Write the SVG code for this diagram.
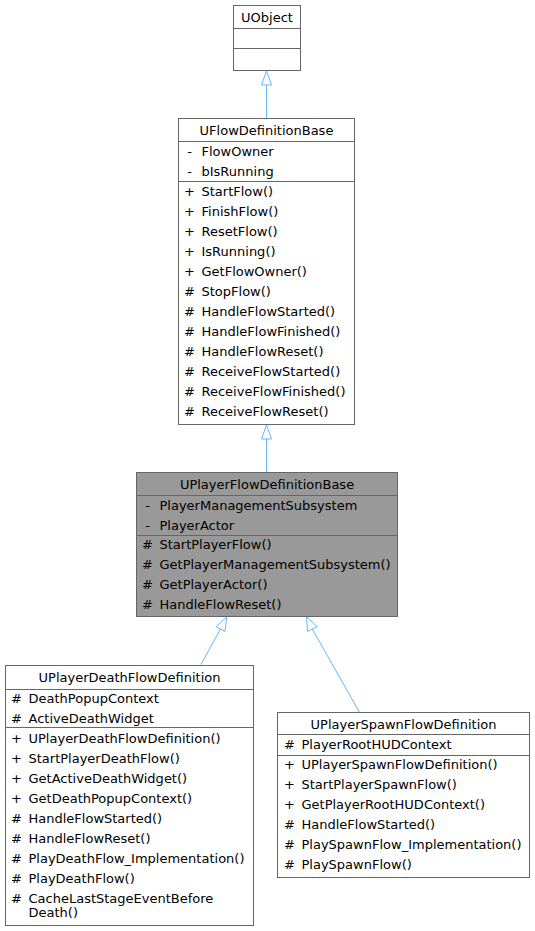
<svg xmlns="http://www.w3.org/2000/svg" width="535" height="931" viewBox="0 0 535 931">
<style>
text{font-family:"DejaVu Sans","Liberation Sans",sans-serif;font-size:13px;fill:#000}
.t{text-anchor:middle}
.v{text-anchor:middle}
.box{fill:#fff;stroke:#666;stroke-width:1}
.sel{fill:#999;stroke:#666;stroke-width:1}
.sep{stroke:#666;stroke-width:1}
.edge{fill:none;stroke:#63b8ff;stroke-width:1}
.head{fill:#fff;stroke:#63b8ff;stroke-width:1}
</style>
<rect width="535" height="931" fill="#fff"/>
<g id="connectors">
<path class="edge" d="M266.5,118 V84.5"/>
<polygon class="head" points="266.5,71 261.5,85 271.5,85"/>
<path class="edge" d="M266.5,472 V438.5"/>
<polygon class="head" points="266.5,425 261.5,439 271.5,439"/>
<path class="edge" d="M201,664.5 L220.5,629"/>
<polygon class="head" points="226.7,617 216,626.7 225,631.3"/>
<path class="edge" d="M359.3,712 L312.3,629"/>
<polygon class="head" points="306.5,617 307.5,631.3 317.3,626.7"/>
</g>
<g id="UObject">
<rect class="box" x="233.5" y="5.5" width="67" height="65"/>
<line class="sep" x1="233.5" y1="28.5" x2="300.5" y2="28.5"/>
<line class="sep" x1="233.5" y1="48.5" x2="300.5" y2="48.5"/>
<text class="t" x="267" y="22">UObject</text>
</g>
<g id="UFlowDefinitionBase">
<rect class="box" x="178.5" y="118.5" width="176" height="306"/>
<line class="sep" x1="178.5" y1="141.5" x2="354.5" y2="141.5"/>
<line class="sep" x1="178.5" y1="181.5" x2="354.5" y2="181.5"/>
<text class="t" x="266.5" y="135">UFlowDefinitionBase</text>
<text class="v" x="189.5" y="155.5">-</text><text x="201.5" y="155.5">FlowOwner</text>
<text class="v" x="189.5" y="175.5">-</text><text x="201.5" y="175.5">bIsRunning</text>
<text class="v" x="189.5" y="195.5">+</text><text x="201.5" y="195.5">StartFlow()</text>
<text class="v" x="189.5" y="215.5">+</text><text x="201.5" y="215.5">FinishFlow()</text>
<text class="v" x="189.5" y="235.5">+</text><text x="201.5" y="235.5">ResetFlow()</text>
<text class="v" x="189.5" y="255.5">+</text><text x="201.5" y="255.5">IsRunning()</text>
<text class="v" x="189.5" y="275.5">+</text><text x="201.5" y="275.5">GetFlowOwner()</text>
<text class="v" x="189.5" y="295.5">#</text><text x="201.5" y="295.5">StopFlow()</text>
<text class="v" x="189.5" y="315.5">#</text><text x="201.5" y="315.5">HandleFlowStarted()</text>
<text class="v" x="189.5" y="335.5">#</text><text x="201.5" y="335.5">HandleFlowFinished()</text>
<text class="v" x="189.5" y="355.5">#</text><text x="201.5" y="355.5">HandleFlowReset()</text>
<text class="v" x="189.5" y="375.5">#</text><text x="201.5" y="375.5">ReceiveFlowStarted()</text>
<text class="v" x="189.5" y="395.5">#</text><text x="201.5" y="395.5">ReceiveFlowFinished()</text>
<text class="v" x="189.5" y="415.5">#</text><text x="201.5" y="415.5">ReceiveFlowReset()</text>
</g>
<g id="UPlayerFlowDefinitionBase">
<rect class="sel" x="136.5" y="472.5" width="261" height="144"/>
<line class="sep" x1="136.5" y1="495.5" x2="397.5" y2="495.5"/>
<line class="sep" x1="136.5" y1="535.5" x2="397.5" y2="535.5"/>
<text class="t" x="267" y="489">UPlayerFlowDefinitionBase</text>
<text class="v" x="147.5" y="509.5">-</text><text x="159.5" y="509.5">PlayerManagementSubsystem</text>
<text class="v" x="147.5" y="529.5">-</text><text x="159.5" y="529.5">PlayerActor</text>
<text class="v" x="147.5" y="549">#</text><text x="159.5" y="549">StartPlayerFlow()</text>
<text class="v" x="147.5" y="569">#</text><text x="159.5" y="569">GetPlayerManagementSubsystem()</text>
<text class="v" x="147.5" y="589">#</text><text x="159.5" y="589">GetPlayerActor()</text>
<text class="v" x="147.5" y="609">#</text><text x="159.5" y="609">HandleFlowReset()</text>
</g>
<g id="UPlayerDeathFlowDefinition">
<rect class="box" x="5.5" y="665.5" width="248" height="260"/>
<line class="sep" x1="5.5" y1="689.5" x2="253.5" y2="689.5"/>
<line class="sep" x1="5.5" y1="727.5" x2="253.5" y2="727.5"/>
<text class="t" x="129.5" y="682">UPlayerDeathFlowDefinition</text>
<text class="v" x="16.5" y="702.5">#</text><text x="28.5" y="702.5">DeathPopupContext</text>
<text class="v" x="16.5" y="722.5">#</text><text x="28.5" y="722.5">ActiveDeathWidget</text>
<text class="v" x="16.5" y="742.5">+</text><text x="28.5" y="742.5">UPlayerDeathFlowDefinition()</text>
<text class="v" x="16.5" y="762.5">+</text><text x="28.5" y="762.5">StartPlayerDeathFlow()</text>
<text class="v" x="16.5" y="782.5">+</text><text x="28.5" y="782.5">GetActiveDeathWidget()</text>
<text class="v" x="16.5" y="802.5">+</text><text x="28.5" y="802.5">GetDeathPopupContext()</text>
<text class="v" x="16.5" y="822.5">#</text><text x="28.5" y="822.5">HandleFlowStarted()</text>
<text class="v" x="16.5" y="842.5">#</text><text x="28.5" y="842.5">HandleFlowReset()</text>
<text class="v" x="16.5" y="862.5">#</text><text x="28.5" y="862.5">PlayDeathFlow_Implementation()</text>
<text class="v" x="16.5" y="882.5">#</text><text x="28.5" y="882.5">PlayDeathFlow()</text>
<text class="v" x="16.5" y="902.5">#</text><text x="28.5" y="902.5">CacheLastStageEventBefore</text>
<text x="28.5" y="916.5">Death()</text>
</g>
<g id="UPlayerSpawnFlowDefinition">
<rect class="box" x="277.5" y="712.5" width="252" height="165"/>
<line class="sep" x1="277.5" y1="734.5" x2="529.5" y2="734.5"/>
<line class="sep" x1="277.5" y1="755.5" x2="529.5" y2="755.5"/>
<text class="t" x="403.5" y="729">UPlayerSpawnFlowDefinition</text>
<text class="v" x="289.5" y="749">#</text><text x="301.5" y="749">PlayerRootHUDContext</text>
<text class="v" x="289.5" y="769">+</text><text x="301.5" y="769">UPlayerSpawnFlowDefinition()</text>
<text class="v" x="289.5" y="789">+</text><text x="301.5" y="789">StartPlayerSpawnFlow()</text>
<text class="v" x="289.5" y="809">+</text><text x="301.5" y="809">GetPlayerRootHUDContext()</text>
<text class="v" x="289.5" y="829">#</text><text x="301.5" y="829">HandleFlowStarted()</text>
<text class="v" x="289.5" y="849">#</text><text x="301.5" y="849">PlaySpawnFlow_Implementation()</text>
<text class="v" x="289.5" y="869">#</text><text x="301.5" y="869">PlaySpawnFlow()</text>
</g>
</svg>
